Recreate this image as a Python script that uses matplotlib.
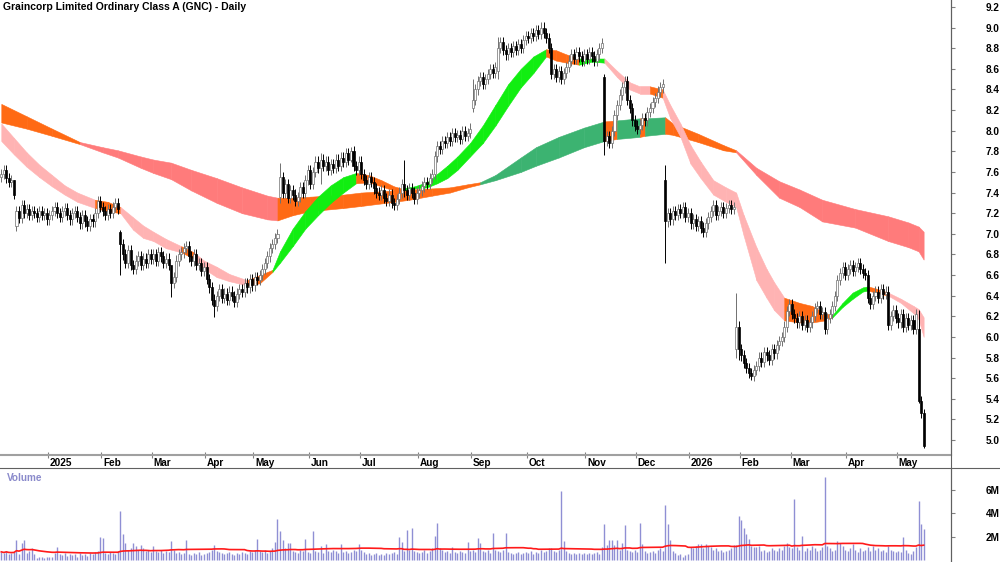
import numpy as np
import pandas as pd
import matplotlib
matplotlib.use("Agg")
import matplotlib.pyplot as plt
from matplotlib.lines import Line2D
from matplotlib.transforms import blended_transform_factory

plt.rcParams['font.family'] = ['Liberation Sans', 'DejaVu Sans']

title = "Graincorp Limited Ordinary Class A (GNC) - Daily"

# trading days shown per month (Dec 2024 .. May 2026) and their axis labels
month_labels = ['', '2025', 'Feb', 'Mar', 'Apr', 'May', 'Jun', 'Jul', 'Aug', 'Sep',
                'Oct', 'Nov', 'Dec', '2026', 'Feb', 'Mar', 'Apr', 'May']
month_bars = [19, 21, 20, 21, 19, 22, 20, 23, 21, 22, 23, 20, 21, 20, 20, 22, 20, 11]

# daily closes, one line per month
closes = [
    7.58, 7.62, 7.54, 7.50, 7.52, 7.38, 7.22, 7.15, 7.28, 7.20, 7.24, 7.18, 7.22, 7.20, 7.16, 7.22, 7.18, 7.20, 7.14,
    7.18, 7.22, 7.26, 7.20, 7.16, 7.22, 7.25, 7.18, 7.14, 7.20, 7.22, 7.16, 7.10, 7.18, 7.12, 7.08, 7.14, 7.12, 7.20, 7.32, 7.26,
    7.22, 7.18, 7.24, 7.20, 7.26, 7.30, 7.24, 6.90, 6.80, 6.72, 6.84, 6.70, 6.66, 6.74, 6.78, 6.70, 6.76, 6.72, 6.80, 6.76,
    6.80, 6.74, 6.82, 6.78, 6.72, 6.76, 6.70, 6.52, 6.58, 6.74, 6.80, 6.82, 6.86, 6.88, 6.78, 6.74, 6.80, 6.70, 6.72, 6.64, 6.68,
    6.56, 6.48, 6.36, 6.30, 6.40, 6.46, 6.38, 6.42, 6.36, 6.44, 6.40, 6.34, 6.42, 6.46, 6.44, 6.52, 6.48, 6.56, 6.50,
    6.58, 6.55, 6.60, 6.66, 6.72, 6.78, 6.86, 6.90, 6.96, 7.00, 7.55, 7.40, 7.48, 7.35, 7.42, 7.38, 7.32, 7.36, 7.45, 7.40, 7.52, 7.62,
    7.48, 7.60, 7.70, 7.64, 7.72, 7.66, 7.70, 7.62, 7.68, 7.64, 7.72, 7.66, 7.74, 7.70, 7.78, 7.72, 7.80, 7.66, 7.62, 7.70,
    7.58, 7.52, 7.48, 7.55, 7.50, 7.44, 7.40, 7.38, 7.42, 7.35, 7.32, 7.38, 7.30, 7.28, 7.34, 7.40, 7.48, 7.42, 7.38, 7.44, 7.40, 7.34, 7.40,
    7.42, 7.46, 7.50, 7.48, 7.54, 7.58, 7.75, 7.85, 7.82, 7.90, 7.88, 7.94, 7.90, 7.98, 7.94, 7.96, 7.92, 8.00, 7.95, 7.98, 8.02,
    8.30, 8.40, 8.48, 8.52, 8.45, 8.50, 8.55, 8.60, 8.56, 8.62, 8.80, 8.86, 8.78, 8.74, 8.80, 8.76, 8.82, 8.78, 8.84, 8.80, 8.88, 8.92,
    8.90, 8.95, 8.92, 8.98, 8.94, 9.00, 8.95, 8.90, 8.80, 8.55, 8.60, 8.52, 8.58, 8.50, 8.56, 8.62, 8.68, 8.74, 8.70, 8.76, 8.72, 8.68, 8.74,
    8.70, 8.76, 8.72, 8.68, 8.74, 8.80, 8.85, 7.90, 7.95, 7.88, 8.00, 8.15, 8.25, 8.35, 8.42, 8.48, 8.30, 8.22, 8.10, 8.05,
    8.02, 8.06, 8.12, 8.10, 8.18, 8.22, 8.28, 8.32, 8.38, 8.42, 8.45, 7.12, 7.20, 7.14, 7.22, 7.18, 7.24, 7.20, 7.26, 7.16, 7.20,
    7.10, 7.14, 7.08, 7.12, 7.06, 7.02, 7.10, 7.16, 7.22, 7.28, 7.18, 7.22, 7.26, 7.20, 7.25, 7.28, 7.24, 7.26, 6.10, 5.88,
    5.82, 5.75, 5.70, 5.65, 5.62, 5.68, 5.72, 5.80, 5.76, 5.85, 5.82, 5.78, 5.88, 5.84, 5.92, 5.96, 6.00, 6.10, 6.25, 6.32,
    6.22, 6.18, 6.14, 6.20, 6.12, 6.16, 6.10, 6.14, 6.20, 6.28, 6.30, 6.22, 6.24, 6.08, 6.18, 6.22, 6.30, 6.40, 6.55, 6.62, 6.68, 6.60,
    6.66, 6.70, 6.64, 6.68, 6.72, 6.66, 6.62, 6.60, 6.38, 6.32, 6.40, 6.44, 6.38, 6.46, 6.42, 6.44, 6.12, 6.20, 6.26, 6.18,
    6.14, 6.22, 6.10, 6.18, 6.12, 6.16, 6.08, 6.22, 5.38, 5.26, 4.94,
]
first_open = 7.55
# opens that gapped away from the prior close
gap_opens = {6: 7.08, 47: 7.02, 110: 7.36, 186: 8.22, 196: 8.58, 238: 8.52,
             262: 7.52, 290: 5.88, 362: 6.08}
# bars with long shadows: index -> (low, high)
long_wicks = {5: (7.34, 7.52), 47: (6.60, 7.04), 67: (6.39, 6.62), 84: (6.19, 6.42),
              110: (7.30, 7.69), 126: (7.48, 7.78), 138: (7.70, 7.84), 159: (7.36, 7.72),
              186: (8.18, 8.50), 196: (8.50, 8.91), 238: (7.76, 8.55), 262: (6.72, 7.67),
              290: (5.80, 6.43), 291: (5.78, 6.15), 296: (5.58, 5.70), 362: (5.36, 6.26),
              364: (4.92, 5.30)}

# daily volume in millions, one line per month
volume_m = [
    0.7, 0.6, 0.8, 0.5, 0.6, 0.7, 1.7, 0.5, 1.45, 1.7, 0.6, 0.8, 1.0, 0.5, 0.2, 0.25, 0.3, 0.2, 0.3,
    0.25, 0.3, 0.6, 1.1, 0.5, 0.4, 0.6, 0.35, 0.5, 0.4, 0.55, 0.3, 0.6, 0.45, 0.5, 0.35, 0.6, 0.5, 0.7, 0.8, 2.0,
    1.85, 0.6, 0.5, 0.7, 0.6, 0.5, 0.8, 4.2, 2.2, 1.45, 0.9, 1.0, 1.45, 1.2, 0.9, 1.25, 1.0, 0.8, 0.9, 0.7,
    1.2, 0.8, 0.7, 0.9, 0.6, 0.8, 0.7, 1.6, 0.9, 0.6, 0.7, 0.5, 0.6, 1.7, 0.5, 0.4, 0.6, 0.5, 0.7, 0.4, 0.5,
    0.6, 0.7, 0.9, 1.3, 0.8, 0.7, 0.6, 0.5, 0.6, 0.7, 0.5, 0.4, 0.6, 0.5, 0.7, 0.6, 0.5, 0.8, 0.7,
    0.9, 1.8, 0.8, 0.7, 0.9, 0.6, 0.8, 1.0, 1.55, 3.5, 2.5, 1.7, 1.0, 1.45, 1.45, 0.8, 0.7, 0.6, 0.9, 0.8, 1.8, 0.7,
    0.6, 2.5, 0.8, 0.7, 1.2, 0.6, 1.35, 0.8, 0.7, 0.9, 0.8, 0.6, 1.35, 0.7, 0.8, 0.6, 0.7, 0.9, 0.8, 1.35,
    0.9, 0.7, 0.5, 0.6, 0.4, 0.5, 0.6, 0.4, 0.5, 0.4, 0.6, 0.5, 0.6, 0.7, 0.5, 2.0, 1.55, 0.8, 2.6, 0.9, 2.75, 0.8, 0.7,
    0.6, 0.7, 0.9, 0.6, 0.8, 1.0, 2.1, 3.2, 1.0, 0.9, 0.7, 0.8, 0.6, 1.1, 0.7, 0.6, 0.8, 0.7, 0.6, 1.55, 0.8,
    0.9, 0.7, 1.9, 1.45, 0.8, 0.7, 0.9, 0.6, 2.3, 0.9, 0.8, 0.7, 0.9, 2.3, 0.7, 0.6, 0.5, 0.6, 0.7, 0.5, 0.6, 0.7,
    0.6, 0.8, 0.5, 0.7, 0.6, 0.9, 0.7, 0.8, 1.0, 1.0, 0.8, 0.7, 0.9, 5.9, 1.6, 0.8, 0.6, 0.5, 0.6, 0.5, 0.6, 0.5, 0.6,
    0.5, 0.6, 0.5, 0.6, 0.7, 0.5, 1.1, 3.1, 1.3, 1.7, 1.75, 1.3, 1.7, 0.9, 1.45, 3.0, 0.9, 0.8, 0.7, 0.9,
    0.7, 3.2, 1.35, 0.8, 0.6, 0.7, 0.8, 0.6, 0.9, 1.0, 0.8, 4.7, 3.1, 1.7, 0.8, 0.6, 0.4, 0.5, 0.3, 0.4, 0.5,
    1.1, 1.0, 1.2, 1.35, 1.35, 1.0, 1.35, 1.2, 1.1, 0.9, 1.0, 0.8, 0.9, 0.7, 0.8, 0.9, 1.0, 1.3, 1.3, 3.8,
    3.4, 2.75, 2.2, 1.8, 1.2, 1.15, 1.15, 1.2, 0.8, 0.9, 0.7, 0.8, 1.0, 0.9, 0.8, 1.0, 0.9, 1.2, 1.5, 1.1,
    1.0, 5.2, 1.1, 0.9, 2.1, 0.8, 1.0, 0.9, 1.2, 1.0, 0.8, 0.9, 1.1, 7.1, 1.2, 1.0, 0.8, 0.9, 1.6, 1.5, 1.2, 0.9,
    0.8, 1.0, 1.35, 0.9, 0.7, 1.0, 0.8, 0.9, 1.1, 0.8, 1.2, 0.9, 1.0, 0.8, 0.9, 0.7, 1.2, 0.9, 0.8, 0.7,
    0.8, 0.7, 2.0, 0.9, 0.6, 0.5, 0.8, 1.1, 5.1, 3.1, 2.7,
]

# short-term trend band: bar index, upper, lower, colour of the following stretch
short_idx = [0, 5, 10, 15, 20, 25, 30, 37, 42, 47, 52, 56, 60, 65, 71, 76, 80, 85, 90, 97,
             102, 107, 110, 115, 120, 125, 130, 135, 140, 145, 150, 155, 158, 163, 168, 172,
             176, 180, 185, 190, 195, 200, 205, 210, 215, 219, 223, 228, 233, 238, 243, 248,
             252, 256, 261, 264, 268, 272, 276, 281, 286, 290, 293, 298, 302, 305, 309, 315,
             320, 325, 328, 332, 336, 340, 342, 345, 350, 355, 360, 362, 364]
short_hi = [8.07, 7.93, 7.79, 7.67, 7.57, 7.47, 7.40, 7.33, 7.31, 7.26, 7.16, 7.08, 7.02, 6.95,
            6.88, 6.82, 6.74, 6.68, 6.61, 6.55, 6.60, 6.65, 6.83, 7.05, 7.22, 7.36, 7.47, 7.55,
            7.59, 7.57, 7.52, 7.46, 7.44, 7.46, 7.50, 7.58, 7.66, 7.75, 7.88, 8.05, 8.25, 8.45,
            8.60, 8.72, 8.79, 8.78, 8.74, 8.70, 8.70, 8.70, 8.58, 8.47, 8.43, 8.43, 8.40, 8.25,
            8.07, 7.86, 7.70, 7.52, 7.45, 7.40, 7.18, 6.87, 6.66, 6.53, 6.38, 6.33, 6.30, 6.23,
            6.21, 6.33, 6.43, 6.48, 6.49, 6.47, 6.43, 6.37, 6.30, 6.27, 6.19]
short_lo = [7.90, 7.77, 7.65, 7.55, 7.46, 7.38, 7.31, 7.25, 7.22, 7.20, 7.04, 6.96, 6.93, 6.86,
            6.82, 6.76, 6.66, 6.58, 6.54, 6.50, 6.52, 6.63, 6.72, 6.88, 7.05, 7.18, 7.30, 7.40,
            7.49, 7.50, 7.46, 7.42, 7.42, 7.44, 7.45, 7.49, 7.54, 7.62, 7.75, 7.88, 8.05, 8.24,
            8.42, 8.56, 8.72, 8.68, 8.66, 8.64, 8.67, 8.66, 8.52, 8.40, 8.36, 8.36, 8.32, 8.12,
            7.94, 7.68, 7.54, 7.38, 7.31, 7.26, 6.98, 6.55, 6.38, 6.26, 6.16, 6.14, 6.14, 6.16,
            6.19, 6.29, 6.37, 6.44, 6.45, 6.43, 6.40, 6.33, 6.23, 6.17, 6.00]
short_col = ['p'] * 7 + ['o', 'o'] + ['p'] * 5 + ['o'] + ['p'] * 4 + ['o', 'o'] + ['g'] * 7 + \
            ['o'] * 4 + ['g'] * 12 + ['o'] * 3 + ['g', 'g'] + ['p'] * 4 + ['o'] + ['p'] * 12 + \
            ['o'] * 4 + ['g'] * 4 + ['o', 'o'] + ['p'] * 4

# long-term trend band
long_idx = [0, 10, 20, 31, 40, 46, 55, 60, 67, 75, 85, 95, 105, 109, 115, 122, 135, 142, 155,
            161, 170, 177, 184, 189, 195, 205, 211, 220, 230, 238, 243, 252, 254, 262, 265,
            275, 285, 290, 298, 307, 315, 324, 337, 350, 358, 362, 364]
long_hi = [8.26, 8.14, 8.02, 7.89, 7.84, 7.81, 7.75, 7.72, 7.69, 7.62, 7.54, 7.45, 7.37, 7.35,
           7.35, 7.36, 7.38, 7.40, 7.42, 7.43, 7.44, 7.45, 7.48, 7.50, 7.57, 7.74, 7.84, 7.94,
           8.03, 8.09, 8.10, 8.12, 8.12, 8.13, 8.07, 7.97, 7.86, 7.81, 7.64, 7.51, 7.43, 7.33,
           7.24, 7.17, 7.11, 7.07, 7.02]
long_lo = [8.08, 8.02, 7.95, 7.87, 7.79, 7.74, 7.64, 7.59, 7.53, 7.42, 7.30, 7.20, 7.14, 7.13,
           7.18, 7.22, 7.25, 7.27, 7.31, 7.33, 7.37, 7.40, 7.45, 7.48, 7.52, 7.60, 7.66, 7.74,
           7.84, 7.90, 7.92, 7.94, 7.95, 7.97, 7.96, 7.89, 7.81, 7.79, 7.57, 7.35, 7.26, 7.12,
           7.06, 6.93, 6.87, 6.83, 6.75]
long_col = ['o'] * 3 + ['r'] * 10 + ['o'] * 10 + ['g'] * 6 + ['o', 'g', 'o', 'g'] + ['o'] * 4 + ['r'] * 9

short_colors = {'p': '#ffb3b3', 'g': '#11ee11', 'o': '#ff6a14'}
long_colors = {'r': '#ff7b7b', 'g': '#3cb371', 'o': '#ff6a14'}

n = len(closes)
assert n == sum(month_bars) == len(volume_m)
assert len(short_col) == len(short_idx) - 1 and len(long_col) == len(long_idx) - 1
x = np.arange(n)
c = np.array(closes)
o = np.array([first_open] + closes[:-1])
for k, v in gap_opens.items():
    o[k] = v
hi = np.maximum(o, c) + 0.05
lo = np.minimum(o, c) - 0.05
for k, (l, h) in long_wicks.items():
    lo[k], hi[k] = l, h

W, H = 1000, 562
fig = plt.figure(figsize=(W / 100, H / 100), dpi=100)
price_bot, vol_top, right = 455, 468, 951
ax = fig.add_axes([0, 1 - price_bot / H, right / W, price_bot / H])
axv = fig.add_axes([0, 0, right / W, 1 - vol_top / H])

xlim = (-0.51, 374.8)


def draw_band(idx, top, bot, cols, palette):
    for k in range(len(idx) - 1):
        col = palette[cols[k]]
        ax.fill_between(idx[k:k + 2], bot[k:k + 2], top[k:k + 2], facecolor=col,
                        edgecolor=col, lw=0.4, zorder=1)


draw_band(long_idx, long_hi, long_lo, long_col, long_colors)
draw_band(short_idx, short_hi, short_lo, short_col, short_colors)

# candles: hollow grey-edged when up, solid black when down
up = c >= o
body_b = np.minimum(o, c)
body_h = np.maximum(np.abs(c - o), 0.012)
ax.vlines(x[up], lo[up], hi[up], color='#707070', lw=0.7, zorder=2)
ax.vlines(x[~up], lo[~up], hi[~up], color='black', lw=0.7, zorder=2)
ax.bar(x[up], body_h[up], bottom=body_b[up], width=0.8, color='white',
       edgecolor='#707070', lw=0.5, zorder=3)
ax.bar(x[~up], body_h[~up], bottom=body_b[~up], width=0.8, color='black',
       edgecolor='black', lw=0.5, zorder=3)

ax.set_xlim(*xlim)
ax.set_ylim(5 - (price_bot - 440) / 103.1, 5 + 440 / 103.1)
ax.yaxis.tick_right()
yt = np.round(np.arange(5.0, 9.21, 0.2), 1)
ax.set_yticks(yt)
ax.set_yticklabels([f'{v:.1f}' for v in yt], fontsize=7.2, fontweight='bold')
ax.tick_params(axis='y', direction='out', length=3, pad=22, color='#808080')

starts = np.cumsum([0] + month_bars[:-1])
ax.set_xticks(starts[1:] - 0.5)
ax.set_xticklabels([])
ax.tick_params(axis='x', direction='inout', length=4, color='#808080')
tr = blended_transform_factory(ax.transData, ax.transAxes)
for s, lbl in zip(starts, month_labels):
    if lbl:
        ax.text(s + 0.2, -7.7 / price_bot, lbl, transform=tr, ha='left', va='center',
                fontsize=7.2, fontweight='bold')

for side in ['top', 'left']:
    ax.spines[side].set_visible(False)
ax.spines['bottom'].set_color('#a0a0a0')
ax.spines['bottom'].set_linewidth(1.5)
ax.spines['right'].set_color('#606060')

# volume panel
vol = pd.Series(volume_m)
vol_ma = vol.rolling(50, min_periods=1).mean()
axv.vlines(x, 0, volume_m, color='#8f8fd4', lw=1.0, zorder=2)
axv.plot(x, vol_ma, color='#ff1a1a', lw=1.2, zorder=3)
axv.set_xlim(*xlim)
axv.set_ylim(-0.17, 7.9)
axv.yaxis.tick_right()
axv.set_yticks([2, 4, 6])
axv.set_yticklabels(['2M', '4M', '6M'], fontsize=7.2, fontweight='bold')
axv.tick_params(axis='y', direction='out', length=3, pad=22, color='#808080')
axv.set_xticks([])
for side in ['top', 'left', 'bottom']:
    axv.spines[side].set_visible(False)
axv.spines['right'].set_color('#606060')

# separator lines spanning the figure
fig.add_artist(Line2D([0, 1], [1 - vol_top / H] * 2, transform=fig.transFigure,
                      color='#606060', lw=0.8))
fig.add_artist(Line2D([right / W] * 2, [0, 1], transform=fig.transFigure,
                      color='#606060', lw=0.8))

fig.text(3 / W, 1 - 7 / H, title, fontsize=7.5, fontweight='bold', va='center')
fig.text(7 / W, 1 - 478 / H, 'Volume', fontsize=7.2, fontweight='bold',
         color='#8a8acb', va='center')

fig.savefig('out.png', dpi=100)
